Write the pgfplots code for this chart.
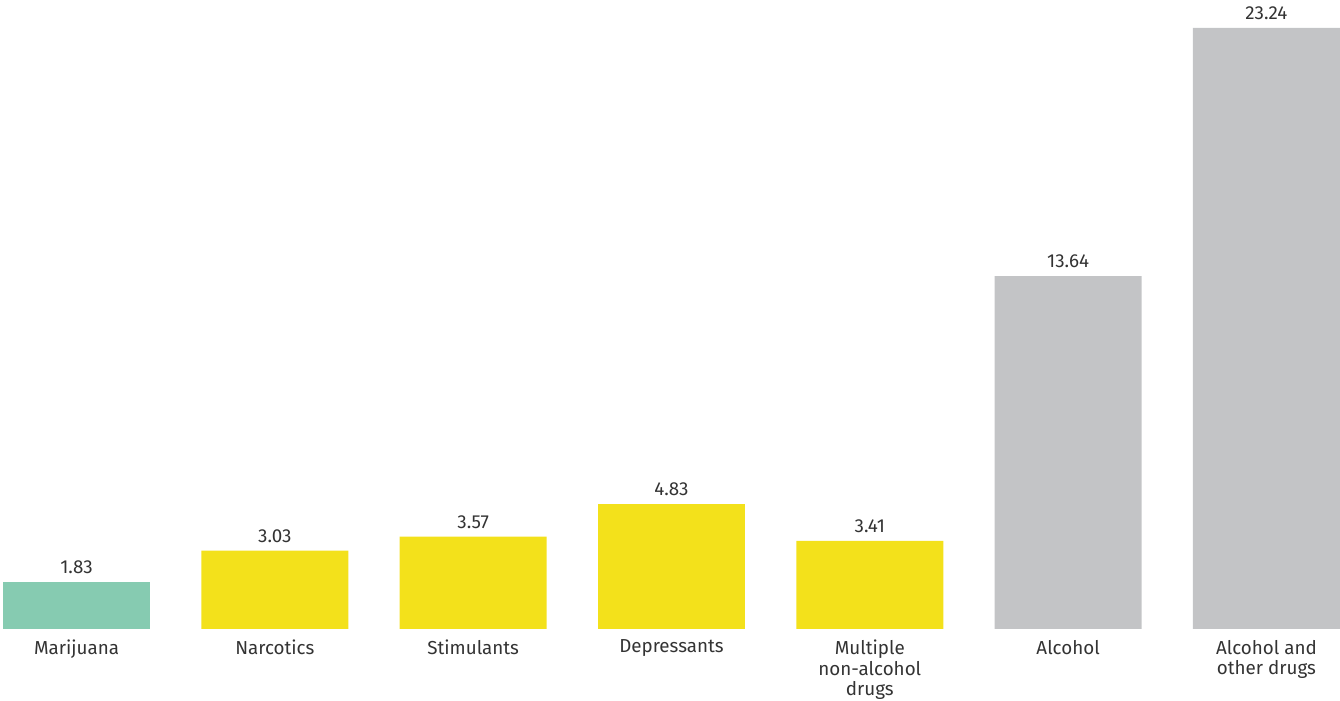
\documentclass[border=0pt]{standalone}
\usepackage{pgfplots}
\pgfplotsset{compat=1.18}
\usepackage{fontspec}
\setmainfont{Fira Sans}
\definecolor{teal}{HTML}{86CBB1}
\definecolor{yel}{HTML}{F3E11B}
\definecolor{gry}{HTML}{C3C4C6}
\definecolor{txt}{HTML}{333333}
\begin{document}
\begin{tikzpicture}
\begin{axis}[
  name=ax,
  scale only axis,
  width=670pt, height=314.5pt,
  xmin=-0.386, xmax=6.371,
  ymin=0, ymax=24.32,
  axis line style={draw=none},
  tick style={draw=none},
  ytick=\empty,
  xtick={0,1,2,3,4,5,6},
  xticklabels={Marijuana,Narcotics,Stimulants,Depressants,{Multiple\\non-alcohol\\drugs},Alcohol,{Alcohol and\\other drugs}},
  xticklabel style={align=center, font=\fontsize{9.4}{10.2}\selectfont, text=txt, yshift=2.3pt},
  ybar, bar width=0.741, bar shift=0pt,
  clip=false,
  point meta=explicit symbolic,
  nodes near coords,
  every node near coord/.append style={font=\fontsize{9.4}{10}\selectfont, text=txt, yshift=0.6pt},
]
\addplot[fill=teal, draw=none] coordinates {(0,1.83) [1.83]};
\addplot[fill=yel, draw=none] coordinates {(1,3.03) [3.03] (2,3.57) [3.57] (3,4.83) [4.83] (4,3.41) [3.41]};
\addplot[fill=gry, draw=none] coordinates {(5,13.64) [13.64] (6,23.24) [23.24]};
\end{axis}
\pgfresetboundingbox
\path[use as bounding box] ([yshift=-36pt]ax.south west) rectangle (ax.north east);
\end{tikzpicture}
\end{document}
